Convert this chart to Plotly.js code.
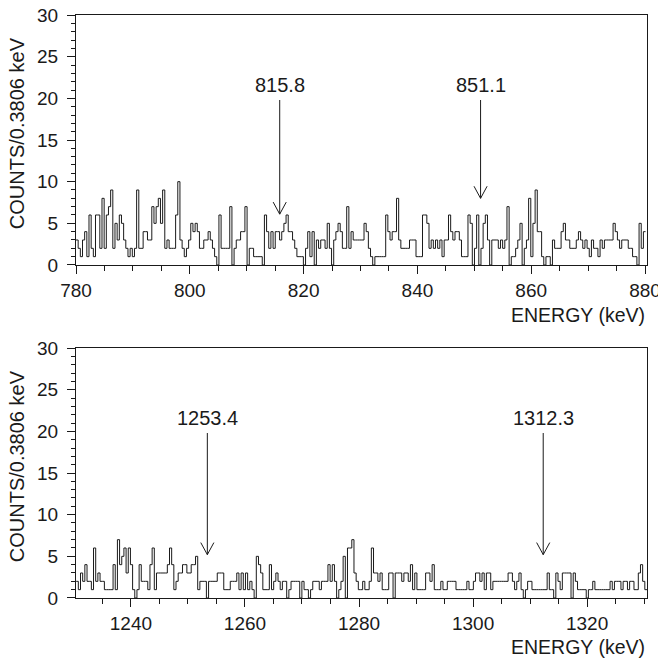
<!DOCTYPE html>
<html>
<head>
<meta charset="utf-8">
<script src="https://cdn.plot.ly/plotly-3.0.1.min.js"></script>
<style>html,body{margin:0;padding:0;background:#fff;}#chart{width:658px;height:658px;}</style>
</head>
<body>
<div id="chart"></div>
<script>
// ---- data ----
const binWidth = 0.3806;
const topStart = 780.0;
const bottomStart = 1230.4;
const topCounts = [
3,2,1,3,4,1,6,2,1,6,
6,2,8,2,6,7,9,2,5,3,
6,5,3,2,1,2,1,2,9,2,
2,4,4,3,3,7,5,7,8,5,
9,2,3,2,2,2,6,10,3,2,
1,2,3,5,4,5,4,2,2,3,
3,4,3,2,1,0,6,2,2,2,
2,7,0,2,3,3,4,4,7,0,
2,2,1,1,1,1,0,6,4,2,
4,2,4,4,3,4,5,6,4,4,
3,2,1,1,1,0,2,4,1,4,
0,3,2,3,3,2,5,2,0,3,
4,5,4,2,2,7,2,4,3,3,
3,3,3,5,4,2,1,0,1,1,
1,1,1,6,4,3,4,4,8,3,
2,2,2,2,3,3,3,1,1,1,
6,6,5,2,3,2,3,2,3,1,
3,3,6,4,3,4,4,3,1,1,
1,6,5,0,2,6,0,2,5,6,
3,0,3,3,3,2,3,2,3,7,
0,1,1,2,3,5,0,2,3,8,
1,5,9,4,4,1,0,1,1,0,
3,2,2,2,4,5,3,3,2,2,
2,3,4,3,2,3,2,1,3,2,
2,1,3,2,3,3,3,3,5,4,
3,2,3,3,3,2,2,1,1,0,
5,2,4
];
const bottomCounts = [
2,1,3,2,4,2,2,1,6,2,
3,2,2,1,1,1,1,4,1,7,
4,5,6,3,6,4,1,0,1,4,
2,2,2,1,4,6,1,3,3,3,
3,3,4,6,4,1,2,3,3,4,
4,3,3,4,4,5,1,2,2,2,
0,2,2,2,2,3,3,3,1,1,
1,2,2,2,3,1,3,1,3,1,
2,1,0,5,4,3,1,1,1,4,
1,2,3,2,1,2,2,0,1,2,
2,2,2,0,2,1,1,0,1,2,
2,2,1,2,2,2,4,2,4,2,
0,1,2,5,0,6,6,7,3,2,
1,1,2,1,1,2,6,3,3,2,
3,1,1,1,3,3,0,3,3,3,
2,3,3,2,4,1,3,1,1,1,
1,3,3,2,4,1,1,1,2,1,
1,2,2,2,2,1,1,1,1,1,
2,1,1,2,3,3,2,3,1,3,
3,1,2,2,2,2,2,2,2,3,
3,2,1,2,3,1,0,1,2,2,
1,1,1,1,1,1,1,3,1,1,
0,3,2,1,3,3,3,3,0,3,
2,1,1,1,1,0,1,1,2,1,
1,1,1,1,1,1,2,1,2,2,
2,1,2,2,1,2,2,1,1,3,
4,2,1
];
const topPeaks = [815.8, 851.1];
const topPeakLabels = ["815.8", "851.1"];
const bottomPeaks = [1253.4, 1312.3];
const bottomPeakLabels = ["1253.4", "1312.3"];
const yTitle = "COUNTS/0.3806 keV";
const xTitle = "ENERGY (keV)";

// ---- build ----
function stepXY(start, counts) {
  const x = [], y = [];
  counts.forEach((c, i) => { x.push(start + i * binWidth); y.push(c); });
  x.push(start + counts.length * binWidth); y.push(counts[counts.length - 1]);
  return {x, y};
}
const ink = '#1a1a1a';
const FONT = '"Liberation Sans", Arial, Helvetica, sans-serif';
const t = stepXY(topStart, topCounts);
const b = stepXY(bottomStart, bottomCounts);

const traces = [
  {x: t.x, y: t.y, type: 'scatter', mode: 'lines', line: {shape: 'hv', color: ink, width: 1}, xaxis: 'x', yaxis: 'y', hoverinfo: 'skip'},
  {x: b.x, y: b.y, type: 'scatter', mode: 'lines', line: {shape: 'hv', color: ink, width: 1}, xaxis: 'x2', yaxis: 'y2', hoverinfo: 'skip'}
];

function xAxis(range, anchor) {
  return {
    range: range, anchor: anchor, showgrid: false, zeroline: false,
    showline: true, mirror: true, linecolor: ink, linewidth: 1,
    ticks: 'outside', ticklen: 8, tickwidth: 1, tickcolor: ink, dtick: 20, tick0: 0,
    ticklabeloverflow: 'allow',
    minor: {ticks: 'outside', ticklen: 5, tickwidth: 1, tickcolor: ink, dtick: 5, showgrid: false},
    tickfont: {family: FONT, size: 19, color: ink}
  };
}
function yAxis(domain, anchor) {
  return {
    domain: domain, anchor: anchor, range: [0, 30], showgrid: false, zeroline: false,
    showline: true, mirror: true, linecolor: ink, linewidth: 1,
    ticks: 'outside', ticklen: 8, tickwidth: 1, tickcolor: ink, dtick: 5, tick0: 0,
    ticklabelstandoff: 5,
    minor: {ticks: 'outside', ticklen: 4, tickwidth: 1, tickcolor: ink, dtick: 1, showgrid: false},
    tickfont: {family: FONT, size: 19, color: ink}
  };
}

const shapes = [];
const annotations = [];
function addArrows(peaks, labels, xref, yref, tipY) {
  peaks.forEach((p, i) => {
    const tip = tipY[i];
    shapes.push({type: 'line', xref: xref, yref: yref, x0: p, x1: p, y0: 19.8, y1: tip, line: {color: ink, width: 1}});
    shapes.push({type: 'line', xref: xref, yref: yref, x0: p - 1.15, x1: p, y0: tip + 1.45, y1: tip, line: {color: ink, width: 1}});
    shapes.push({type: 'line', xref: xref, yref: yref, x0: p + 1.15, x1: p, y0: tip + 1.45, y1: tip, line: {color: ink, width: 1}});
    annotations.push({x: p, y: 21.6, xref: xref, yref: yref, text: labels[i], showarrow: false,
      xanchor: 'center', yanchor: 'middle', font: {family: FONT, size: 20, color: ink}});
  });
}
addArrows(topPeaks, topPeakLabels, 'x', 'y', [6.1, 8.0]);
addArrows(bottomPeaks, bottomPeakLabels, 'x2', 'y2', [5.2, 5.2]);

annotations.push({xref: 'paper', yref: 'paper', x: -0.103, y: 0.7976, text: yTitle, textangle: -90, showarrow: false,
  xanchor: 'center', yanchor: 'middle', font: {family: FONT, size: 20, color: ink}});
annotations.push({xref: 'paper', yref: 'paper', x: -0.103, y: 0.2264, text: yTitle, textangle: -90, showarrow: false,
  xanchor: 'center', yanchor: 'middle', font: {family: FONT, size: 20, color: ink}});
annotations.push({xref: 'paper', yref: 'paper', x: 0.9995, y: 0.4854, text: xTitle, showarrow: false,
  xanchor: 'right', yanchor: 'middle', font: {family: FONT, size: 19.5, color: ink}});
annotations.push({xref: 'paper', yref: 'paper', x: 0.9995, y: -0.084, text: xTitle, showarrow: false,
  xanchor: 'right', yanchor: 'middle', font: {family: FONT, size: 19.5, color: ink}});

const layout = {
  width: 658, height: 658,
  margin: {l: 76, r: 11, t: 15, b: 60},
  paper_bgcolor: '#fff', plot_bgcolor: '#fff',
  showlegend: false,
  xaxis: xAxis([780, 880.35], 'y'),
  yaxis: yAxis([0.5712, 1], 'x'),
  xaxis2: xAxis([1230.37, 1330.5], 'y2'),
  yaxis2: yAxis([0, 0.4288], 'x2'),
  shapes: shapes,
  annotations: annotations,
  font: {family: FONT, color: ink}
};
Plotly.newPlot('chart', traces, layout, {staticPlot: true, displayModeBar: false});
</script>
</body>
</html>
